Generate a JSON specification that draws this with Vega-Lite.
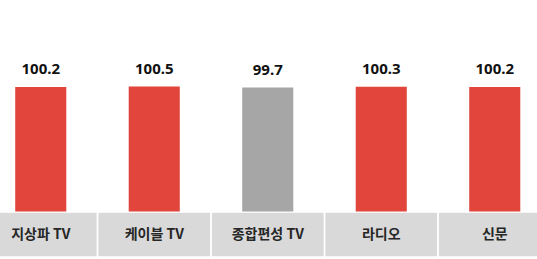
{
  "$schema": "https://vega.github.io/schema/vega-lite/v6.json",
  "width": 537,
  "height": 259,
  "autosize": "none",
  "padding": 0,
  "background": "white",
  "config": {"view": {"stroke": null}},
  "data": {"values": [
    {"media": "지상파 TV", "value": 100.2},
    {"media": "케이블 TV", "value": 100.5},
    {"media": "종합편성 TV", "value": 99.7},
    {"media": "라디오", "value": 100.3},
    {"media": "신문", "value": 100.2}
  ]},
  "resolve": {"scale": {"x": "independent"}},
  "layer": [
    {
      "mark": {"type": "rect", "color": "#D9D9D9"},
      "encoding": {
        "x": {"field": "media", "type": "nominal", "sort": null, "axis": null,
              "scale": {"range": [-16, 551.5], "paddingInner": 0.016, "paddingOuter": 0.008}},
        "y": {"datum": -0.9, "type": "quantitative", "scale": {"domain": [-38.2, 170.2], "nice": false, "zero": false}, "axis": null},
        "y2": {"datum": -35.9}
      }
    },
    {
      "encoding": {
        "x": {"field": "media", "type": "nominal", "sort": null, "axis": null,
              "scale": {"range": [-16, 551.5], "paddingInner": 0.55, "paddingOuter": 0.275}}
      },
      "layer": [
        {
          "mark": {"type": "bar"},
          "encoding": {
            "y": {"field": "value", "type": "quantitative", "axis": null},
            "y2": {"datum": 0},
            "color": {"condition": {"test": "datum.value < 100", "value": "#A6A6A6"}, "value": "#E1453B"}
          }
        },
        {
          "mark": {"type": "text", "baseline": "alphabetic", "dy": -13, "fontSize": 15, "fontWeight": "bold", "font": "Noto Sans", "color": "#111111"},
          "encoding": {
            "y": {"field": "value", "type": "quantitative"},
            "text": {"field": "value", "type": "quantitative", "format": ".1f"}
          }
        },
        {
          "mark": {"type": "text", "baseline": "middle", "fontSize": 14, "fontWeight": "bold", "font": "Noto Sans CJK KR", "color": "#262626"},
          "encoding": {
            "y": {"datum": -18.5},
            "text": {"field": "media", "type": "nominal"}
          }
        }
      ]
    }
  ]
}
